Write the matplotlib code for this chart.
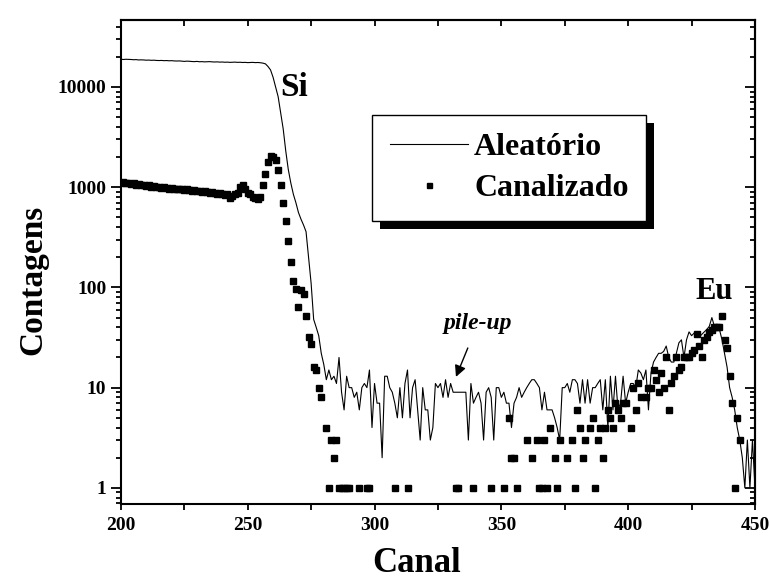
import numpy as np
import matplotlib; matplotlib.use("Agg")
import matplotlib.pyplot as plt
from matplotlib.patches import Rectangle
from matplotlib.ticker import MultipleLocator, LogLocator, NullFormatter, FixedLocator

plt.rcParams["font.family"] = ["Liberation Serif", "DejaVu Serif"]
plt.rcParams["font.weight"] = "bold"
plt.rcParams["axes.labelweight"] = "bold"

# canal 200..450, espectro aleatorio
aleatorio = [
    18900, 18800, 18900, 18850, 18800, 18700, 18750, 18600, 18650, 18600,
    18500, 18550, 18450, 18500, 18400, 18350, 18400, 18300, 18350, 18250,
    18300, 18200, 18150, 18200, 18100, 18000, 18100, 18050, 17950, 17900,
    18000, 17850, 17900, 17800, 17850, 17900, 17800, 17750, 17800, 17700,
    17750, 17650, 17700, 17600, 17650, 17700, 17600, 17650, 17550, 17600,
    17500, 17550, 17600, 17500, 17550, 17450, 17300, 17000, 16000, 14800,
    12500, 10000, 8000, 5500, 3800, 2300, 1500, 1100, 850, 700,
    560, 480, 420, 360, 200, 110, 48, 40, 33, 22,
    17, 12, 15, 12, 13, 11, 20, 9, 6, 13,
    10, 10, 8, 9, 6, 10, 11, 10, 15, 4,
    11, 7, 7, 2, 13, 13, 10, 9, 7, 5,
    10, 5, 11, 15, 5, 10, 12, 6, 3, 10,
    6, 6, 3, 4, 11, 10, 11, 8, 12, 8,
    11, 9, 9, 9, 9, 9, 9, 3, 11, 7,
    8, 9, 7, 3, 9, 10, 8, 3, 10, 10,
    8, 9, 7, 7, 4, 7, 8, 10, 8, 9,
    10, 11, 12, 12, 11, 10, 6, 9, 6, 6,
    6, 5, 4, 3, 10, 10, 11, 9, 12, 12,
    11, 7, 12, 7, 12, 7, 10, 10, 11, 12,
    6, 12, 4, 13, 6, 13, 6, 7, 13, 7,
    9, 11, 11, 10, 15, 14, 12, 15, 6, 14,
    18, 20, 22, 22, 23, 26, 20, 18, 18, 22,
    28, 30, 20, 30, 36, 33, 35, 34, 32, 34,
    36, 38, 41, 50, 41, 38, 38, 30, 22, 16,
    10, 8, 6, 4, 3, 2, 1, 3, 1, 3,
    1,
]
canal_a = np.arange(200, 200 + len(aleatorio))

# espectro canalizado (canal, contagens)
canal_c = [
    200, 201, 202, 203, 204, 205, 206, 207, 208, 209,
    210, 211, 212, 213, 214, 215, 216, 217, 218, 219,
    220, 221, 222, 223, 224, 225, 226, 227, 228, 229,
    230, 231, 232, 233, 234, 235, 236, 237, 238, 239,
    240, 241, 242, 243, 244, 245, 246, 247, 248, 249,
    250, 251, 252, 253, 254, 255, 256, 257, 258, 259,
    260, 261, 262, 263, 264, 265, 266, 267, 268, 269,
    270, 271, 272, 273, 274, 275, 276, 277, 278, 279,
    281, 282, 283, 284, 285, 286, 287, 288, 289, 290,
    294, 297, 298, 308, 313, 332, 333, 339, 346, 351,
    353, 354, 355, 356, 360, 362, 364, 365, 366, 367,
    368, 369, 371, 372, 373, 376, 378, 379, 380, 381,
    382, 383, 385, 386, 387, 388, 389, 390, 391, 392,
    393, 394, 395, 396, 397, 398, 399, 401, 402, 403,
    404, 405, 407, 408, 409, 410, 411, 412, 413, 414,
    415, 416, 417, 418, 419, 420, 421, 422, 423, 424,
    425, 426, 427, 428, 429, 430, 431, 432, 433, 434,
    435, 436, 437, 438, 439, 440, 441, 442, 443, 444,
]
canalizado = [
    1100, 1120, 1090, 1110, 1080, 1090, 1060, 1070, 1040, 1060,
    1030, 1040, 1010, 1030, 1000, 1010, 990, 1000, 980, 970,
    990, 960, 970, 950, 960, 940, 950, 930, 920, 940,
    910, 920, 900, 910, 890, 880, 900, 870, 860, 880,
    850, 840, 860, 780, 820, 850, 880, 1000, 1050, 950,
    880, 850, 800, 780, 760, 800, 1060, 1360, 1800, 2050,
    2000, 1880, 1500, 1040, 700, 460, 290, 180, 117, 96,
    64, 95, 86, 52, 32, 27, 16, 15, 10, 8,
    4, 1, 3, 2, 3, 1, 1, 1, 1, 1,
    1, 1, 1, 1, 1, 1, 1, 1, 1, 1,
    5, 2, 2, 1, 3, 2, 3, 1, 1, 3,
    1, 4, 2, 1, 3, 2, 3, 1, 6, 4,
    2, 3, 4, 5, 1, 3, 4, 2, 4, 6,
    5, 4, 7, 6, 5, 7, 7, 4, 10, 6,
    11, 8, 8, 10, 10, 15, 12, 9, 14, 10,
    20, 6, 11, 13, 20, 15, 16, 20, 20, 20,
    22, 24, 34, 26, 20, 30, 32, 36, 38, 40,
    40, 40, 52, 30, 25, 13, 7, 1, 5, 3,
]

fig = plt.figure(figsize=(7.7, 5.81), dpi=100)
ax = fig.add_axes([0.157, 0.1325, 0.8235, 0.8331])
ax.plot(canal_a, aleatorio, color="black", lw=0.8, label="Aleatório")
ax.plot(canal_c, canalizado, ls="none", marker="s", ms=4.5, color="black", label="Canalizado")
ax.set_yscale("log")
ax.set_xlim(200, 450); ax.set_ylim(0.69, 46600)

ax.xaxis.set_major_locator(MultipleLocator(50)); ax.xaxis.set_minor_locator(MultipleLocator(25))
ax.yaxis.set_major_locator(FixedLocator([1, 10, 100, 1000, 10000]))
ax.yaxis.set_minor_locator(LogLocator(base=10, subs=np.arange(2, 10), numticks=20))
ax.yaxis.set_minor_formatter(NullFormatter())
ax.set_yticklabels(["1", "10", "100", "1000", "10000"])
ax.tick_params(which="both", direction="out", width=1.3, labelsize=14)
ax.tick_params(which="major", length=7); ax.tick_params(which="minor", length=3.5)
ax.tick_params(axis="x", which="both", length=4, pad=5)
for s in ax.spines.values(): s.set_linewidth(1.5)

# eixos espelho (ticks para dentro)
top = ax.secondary_xaxis("top"); right = ax.secondary_yaxis("right")
top.xaxis.set_major_locator(MultipleLocator(50)); top.xaxis.set_minor_locator(MultipleLocator(25))
right.yaxis.set_major_locator(FixedLocator([1, 10, 100, 1000, 10000]))
right.yaxis.set_minor_locator(LogLocator(base=10, subs=np.arange(2, 10), numticks=20))
for sa in (top, right):
    sa.tick_params(which="both", direction="in", width=1.3, labelleft=False, labelright=False,
                   labeltop=False, labelbottom=False)
    sa.tick_params(which="major", length=7); sa.tick_params(which="minor", length=3.5)
    for s in sa.spines.values(): s.set_linewidth(1.5)
top.tick_params(which="both", length=4)

ax.set_xlabel("Canal", fontsize=25)
ax.set_ylabel("Contagens", fontsize=24)
ax.xaxis.set_label_coords(0.467, -0.088)
ax.yaxis.set_label_coords(-0.115, 0.463)

ax.text(268.2, 9800, "Si", fontsize=24, ha="center", va="center")
ax.text(433.8, 92, "Eu", fontsize=22, ha="center", va="center")
ax.annotate("pile-up", xy=(332.1, 12.8), xytext=(340.8, 44), fontsize=17, style="italic",
            ha="center", va="center",
            arrowprops=dict(arrowstyle="-|>", color="black", lw=1, shrinkA=9, shrinkB=0))

leg = ax.legend(loc="upper left", bbox_to_anchor=(0.396, 0.804),
                fontsize=23, handlelength=2.45, handletextpad=0.2, borderpad=0.55,
                labelspacing=0.37, borderaxespad=0, fancybox=False, edgecolor="black",
                framealpha=1, markerscale=0.8)
leg.get_frame().set_linewidth(1.0)
fig.canvas.draw()
bb = leg.get_frame().get_window_extent().transformed(fig.transFigure.inverted())
dx, dy = 8 / 770, 8 / 581
ax.add_patch(Rectangle((bb.x0 + dx, bb.y0 - dy), bb.width, bb.height, transform=fig.transFigure,
                       facecolor="black", edgecolor="none", zorder=4.9, clip_on=False))

fig.savefig("out.png", dpi=100)
